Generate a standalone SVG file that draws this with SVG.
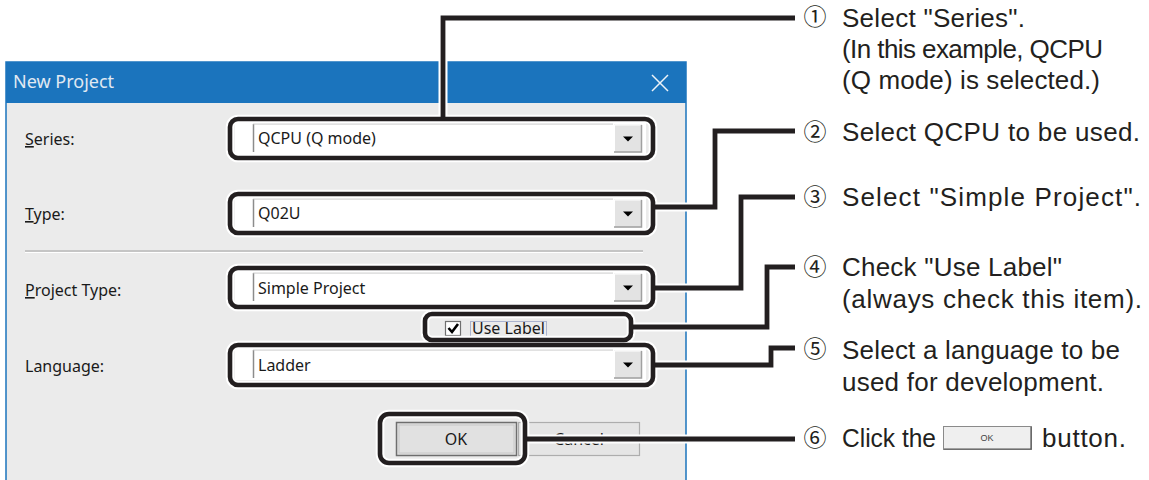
<svg xmlns="http://www.w3.org/2000/svg" xmlns:xlink="http://www.w3.org/1999/xlink" width="1149" height="480" viewBox="0 0 1149 480">
<style>
.dlg{font-family:"Noto Sans","Open Sans",sans-serif;font-size:16px;fill:#1a1a1a}
.note{font-family:"Liberation Sans",Arial,sans-serif;font-size:26px;fill:#231f20}
.num{font-family:"Noto Sans CJK JP","DejaVu Sans",sans-serif;font-size:23px;fill:#231f20;text-anchor:middle}
.halo{fill:none;stroke:#fff;stroke-width:9;stroke-linejoin:miter}
.hl{fill:none;stroke:#231f20;stroke-width:4.8;stroke-linejoin:miter}
.box{fill:none;stroke:#231f20;stroke-width:4.6}
.boxhalo{fill:none;stroke:#fff;stroke-width:8.6}
</style>
<defs>
<g id="field">
<rect x="235" y="0" width="411" height="31" fill="#fff"/>
<line x1="253.5" y1="1" x2="253.5" y2="29" stroke="#8c8c8c" stroke-width="1.5"/>
<line x1="253" y1="1" x2="613" y2="1" stroke="#c4c4c4" stroke-width="1"/>
<rect x="614" y="1.5" width="28" height="28" fill="#e3e3e3"/>
<path d="M614.5,29 V2 H641" fill="none" stroke="#fff" stroke-width="1"/>
<path d="M614,29 H641.5 V2" fill="none" stroke="#a0a0a0" stroke-width="1.5"/>
<polygon points="623,13.5 633,13.5 628,18.5" fill="#000"/>
</g>
</defs>
<rect width="1149" height="480" fill="#fff"/>
<g id="dialog">
<rect x="6" y="62" width="680" height="420" fill="#ebebeb" stroke="#1b74bd" stroke-width="1.5"/>
<rect x="6" y="62" width="680" height="41" fill="#1b74bd"/>
<text x="13" y="88" style="font-family:'Noto Sans','Open Sans',sans-serif;font-size:18px;fill:#e1e9f2">New Project</text>
<path d="M652,75 L668,91 M668,75 L652,91" stroke="#eef3f8" stroke-width="1.5"/>
<text class="dlg" x="25" y="145"><tspan text-decoration="underline">S</tspan>eries:</text>
<text class="dlg" x="25" y="220"><tspan text-decoration="underline">T</tspan>ype:</text>
<line x1="25" y1="251" x2="643" y2="251" stroke="#a0a0a0" stroke-width="1.2"/>
<line x1="25" y1="252.5" x2="643" y2="252.5" stroke="#fff" stroke-width="1"/>
<text class="dlg" x="25" y="296"><tspan text-decoration="underline">P</tspan>roject Type:</text>
<text class="dlg" x="25" y="372">Langua<tspan text-decoration="underline">g</tspan>e:</text>
</g>
<g id="series-combo">
<use xlink:href="#field" y="123"/>
<text class="dlg" x="258" y="144">QCPU (Q mode)</text>
</g>
<g id="type-combo">
<use xlink:href="#field" y="198"/>
<text class="dlg" x="258" y="219">Q02U</text>
</g>
<g id="projecttype-combo">
<use xlink:href="#field" y="272"/>
<text class="dlg" x="258" y="294">Simple Project</text>
</g>
<g id="uselabel-check">
<rect x="445.5" y="321.5" width="15" height="14" fill="#fff" stroke="#707070" stroke-width="1.2"/>
<path d="M448.5,328 L452,332 L458,324" fill="none" stroke="#000" stroke-width="2.6"/>
<text class="dlg" x="472" y="334">Use Label</text>
<rect x="470.5" y="321.5" width="76" height="16" fill="none" stroke="#6a7ab0" stroke-width="1" stroke-dasharray="1,1"/>
</g>
<g id="language-combo">
<use xlink:href="#field" y="349"/>
<text class="dlg" x="258" y="371">Ladder</text>
</g>
<g id="ok-button">
<rect x="396.5" y="422.5" width="120" height="33" fill="#e1e1e1" stroke="#6e6e6e" stroke-width="1.5"/>
<rect x="399" y="425" width="115" height="28" fill="none" stroke="#c8c8c8" stroke-width="1"/>
<text class="dlg" x="456" y="445" text-anchor="middle">OK</text>
</g>
<g id="cancel-button">
<rect x="518.5" y="422.5" width="121" height="33" fill="#e5e5e5" stroke="#adadad" stroke-width="1.2"/>
<text class="dlg" x="579" y="445" text-anchor="middle" fill="#333">Cancel</text>
</g>
<g id="highlights">
<rect class="boxhalo" x="230" y="119" width="423" height="39" rx="8"/>
<rect class="boxhalo" x="230" y="194" width="423" height="39" rx="8"/>
<rect class="boxhalo" x="230" y="268" width="423" height="39" rx="8"/>
<rect class="boxhalo" x="425" y="314" width="206" height="26" rx="7"/>
<rect class="boxhalo" x="230" y="345" width="423" height="40" rx="8"/>
<rect class="boxhalo" x="380" y="414" width="145" height="49" rx="9"/>
</g>
<g id="connectors">
<path class="halo" d="M443,117 V18 H795"/>
<path class="halo" d="M655,207 H715 V131 H795"/>
<path class="halo" d="M655,288 H741 V197 H795"/>
<path class="halo" d="M633,327 H767 V267 H795"/>
<path class="halo" d="M655,365 H771 V348 H795"/>
<path class="halo" d="M527,439 H795"/>
<path class="hl" d="M443,117 V18 H795"/>
<path class="hl" d="M655,207 H715 V131 H795"/>
<path class="hl" d="M655,288 H741 V197 H795"/>
<path class="hl" d="M633,327 H767 V267 H795"/>
<path class="hl" d="M655,365 H771 V348 H795"/>
<path class="hl" d="M527,439 H795"/>
</g>
<g id="highlight-boxes">
<rect class="box" x="230" y="119" width="423" height="39" rx="8"/>
<rect class="box" x="230" y="194" width="423" height="39" rx="8"/>
<rect class="box" x="230" y="268" width="423" height="39" rx="8"/>
<rect class="box" x="425" y="314" width="206" height="26" rx="7"/>
<rect class="box" x="230" y="345" width="423" height="40" rx="8"/>
<rect class="box" x="380" y="414" width="145" height="49" rx="9"/>
</g>
<g id="note1">
<text class="num" x="815" y="25">①</text>
<text class="note" x="842" y="27" textLength="183" lengthAdjust="spacing">Select "Series".</text>
<text class="note" x="842" y="58" textLength="261" lengthAdjust="spacing">(In this example, QCPU</text>
<text class="note" x="842" y="89" textLength="258" lengthAdjust="spacing">(Q mode) is selected.)</text>
</g>
<g id="note2">
<text class="num" x="815" y="140">②</text>
<text class="note" x="842" y="141" textLength="298" lengthAdjust="spacing">Select QCPU to be used.</text>
</g>
<g id="note3">
<text class="num" x="815" y="205">③</text>
<text class="note" x="842" y="206" textLength="299" lengthAdjust="spacing">Select "Simple Project".</text>
</g>
<g id="note4">
<text class="num" x="815" y="275">④</text>
<text class="note" x="842" y="276" textLength="220" lengthAdjust="spacing">Check "Use Label"</text>
<text class="note" x="842" y="308" textLength="300" lengthAdjust="spacing">(always check this item).</text>
</g>
<g id="note5">
<text class="num" x="815" y="357">⑤</text>
<text class="note" x="842" y="359" textLength="278" lengthAdjust="spacing">Select a language to be</text>
<text class="note" x="842" y="391" textLength="262" lengthAdjust="spacing">used for development.</text>
</g>
<g id="note6">
<text class="num" x="815" y="446">⑥</text>
<text class="note" x="842" y="447" textLength="94" lengthAdjust="spacingAndGlyphs">Click the</text>
<rect x="943.5" y="426.5" width="88" height="23" fill="#efefef" stroke="#8a8a8a" stroke-width="1"/>
<path d="M944,449 H1031 V427" fill="none" stroke="#555" stroke-width="1.2"/>
<text x="987" y="441" text-anchor="middle" style="font-family:'Liberation Sans',Arial,sans-serif;font-size:9px;fill:#444">OK</text>
<text class="note" x="1042" y="447" textLength="84" lengthAdjust="spacing">button.</text>
</g>
</svg>
